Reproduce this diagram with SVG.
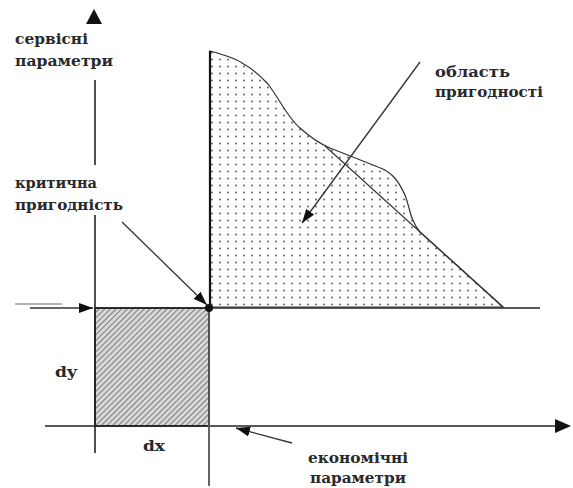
<svg xmlns="http://www.w3.org/2000/svg" width="573" height="488" viewBox="0 0 573 488">
<style>
  .lbl { font-family: "DejaVu Serif", "Liberation Serif", serif; font-weight: bold; font-size: 15px; fill: #2a2a2a; }
  .ax { stroke: #222; stroke-width: 1.6; fill: none; }
  .conn { stroke: #333; stroke-width: 1.3; fill: none; marker-end: url(#ah); }
</style>
<defs>
  <marker id="ah" viewBox="0 0 14 10" refX="14" refY="5" markerWidth="14" markerHeight="10" markerUnits="userSpaceOnUse" orient="auto">
    <path d="M0,0 L14,5 L0,10 z" fill="#111"/>
  </marker>
  <pattern id="dots" width="8" height="7" patternUnits="userSpaceOnUse">
    <circle cx="4" cy="3.5" r="0.9" fill="#555"/>
  </pattern>
  <pattern id="hatch" width="4" height="4" patternUnits="userSpaceOnUse" patternTransform="rotate(45)">
    <rect width="4" height="4" fill="#d8d8d8"/>
    <line x1="0" y1="0" x2="0" y2="4" stroke="#666" stroke-width="1.6"/>
  </pattern>
</defs>
<rect width="573" height="488" fill="#fff"/>

<g id="region">
  <path d="M210,51 C225,55 235,58 242,63 C255,70 262,78 268,84 C280,100 288,118 300,128 C310,137 318,143 330,148 C345,154 360,160 378,167 C392,172 398,180 405,195 C410,208 410,220 420,232 L503,307 L210,307 Z" fill="url(#dots)" stroke="#333" stroke-width="1.2"/>
  <line x1="325" y1="146" x2="503" y2="307" stroke="#333" stroke-width="1.2"/>
</g>

<g id="critical-rect">
  <rect x="95" y="308" width="114" height="118" fill="url(#hatch)" stroke="#222" stroke-width="1.6"/>
</g>

<g id="axes">
  <line class="ax" x1="95" y1="80" x2="95" y2="165"/>
  <line class="ax" x1="95" y1="215" x2="95" y2="453"/>
  <polygon points="94,9 86,24 102,24" fill="#111"/>
  <line class="ax" x1="45" y1="426" x2="557" y2="426"/>
  <polygon points="571,426 555,419 555,433" fill="#111"/>
  <line x1="210" y1="51" x2="210" y2="308" stroke="#111" stroke-width="2.2"/>
  <line x1="209" y1="308" x2="209" y2="486" stroke="#555" stroke-width="1.8"/>
  <line class="ax" x1="95" y1="308" x2="540" y2="308"/>
  <circle cx="209" cy="308" r="4" fill="#111"/>
</g>

<g id="labels">
  <text class="lbl" x="15" y="44" textLength="73" lengthAdjust="spacingAndGlyphs">сервісні</text>
  <text class="lbl" x="15" y="66" textLength="98" lengthAdjust="spacingAndGlyphs">параметри</text>
  <text class="lbl" x="15" y="188" textLength="82" lengthAdjust="spacingAndGlyphs">критична</text>
  <text class="lbl" x="15" y="210" textLength="108" lengthAdjust="spacingAndGlyphs">пригодність</text>
  <text class="lbl" x="435" y="77" textLength="75" lengthAdjust="spacingAndGlyphs">область</text>
  <text class="lbl" x="435" y="97" textLength="108" lengthAdjust="spacingAndGlyphs">пригодності</text>
  <text class="lbl" x="55" y="377" textLength="22" lengthAdjust="spacingAndGlyphs">dy</text>
  <text class="lbl" x="143" y="451" textLength="22" lengthAdjust="spacingAndGlyphs">dx</text>
  <text class="lbl" x="308" y="463" textLength="100" lengthAdjust="spacingAndGlyphs">економічні</text>
  <text class="lbl" x="310" y="483" textLength="96" lengthAdjust="spacingAndGlyphs">параметри</text>
</g>

<g id="connectors">
  <line x1="15" y1="304" x2="62" y2="304" stroke="#999" stroke-width="1.5"/>
  <line class="conn" x1="30" y1="308" x2="93" y2="308"/>
  <line class="conn" x1="122" y1="222" x2="207" y2="305"/>
  <line class="conn" x1="420" y1="62" x2="302" y2="223"/>
  <line class="conn" x1="292" y1="443" x2="236" y2="428"/>
</g>
</svg>
